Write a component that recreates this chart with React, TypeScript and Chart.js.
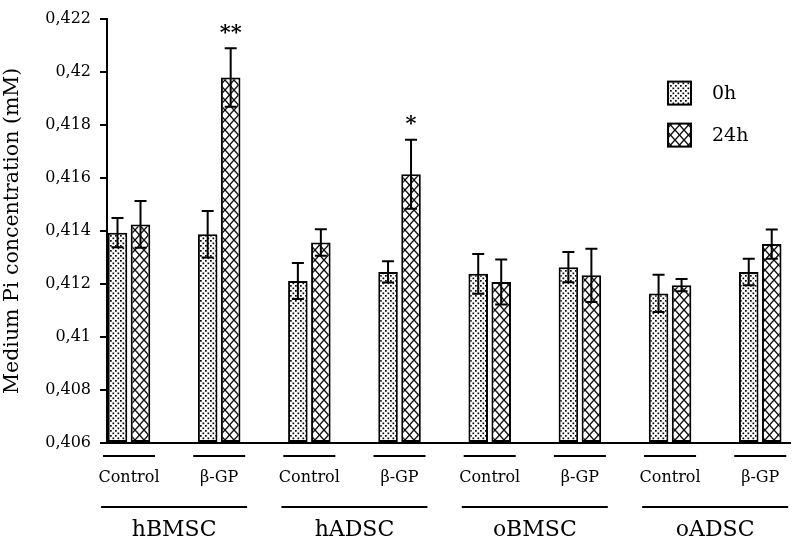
import { useEffect, useRef } from 'react';
import { Chart, registerables } from 'chart.js';

Chart.register(...registerables);

const groups = ['hBMSC', 'hADSC', 'oBMSC', 'oADSC'];
const treatments = ['Control', 'β-GP', 'Control', 'β-GP', 'Control', 'β-GP', 'Control', 'β-GP'];
const seriesLabels = ['0h', '24h'];
const values0h = [0.41393, 0.41387, 0.41211, 0.41245, 0.41238, 0.41263, 0.41164, 0.41245];
const errors0h = [0.00055, 0.00088, 0.00068, 0.0004, 0.00075, 0.00057, 0.0007, 0.0005];
const values24h = [0.41424, 0.41978, 0.41356, 0.41613, 0.41207, 0.41232, 0.41195, 0.4135];
const errors24h = [0.00088, 0.0011, 0.0005, 0.0013, 0.00085, 0.001, 0.00023, 0.00055];
const significance24h = ['', '**', '', '*', '', '', '', ''];
const yMin = 0.406;
const yMax = 0.422;
const yStep = 0.002;
const yTitle = 'Medium Pi concentration (mM)';

const FONT = "'DejaVu Serif', 'Liberation Serif', serif";

function makeDots(): CanvasPattern | string {
  const c = document.createElement('canvas');
  c.width = 5;
  c.height = 5;
  const g = c.getContext('2d');
  if (!g) return '#fff';
  g.fillStyle = '#fff';
  g.fillRect(0, 0, 5, 5);
  g.fillStyle = '#000';
  g.fillRect(0, 0, 1.7, 1.7);
  g.fillRect(2.5, 2.5, 1.7, 1.7);
  return g.createPattern(c, 'repeat') || '#fff';
}

function makeCross(): CanvasPattern | string {
  const w = 9;
  const h = 10;
  const c = document.createElement('canvas');
  c.width = w;
  c.height = h;
  const g = c.getContext('2d');
  if (!g) return '#fff';
  g.fillStyle = '#fff';
  g.fillRect(0, 0, w, h);
  g.strokeStyle = '#111';
  g.lineWidth = 1.4;
  for (let k = -1; k <= 1; k++) {
    g.beginPath();
    g.moveTo(k * w - w, -h);
    g.lineTo(k * w + 2 * w, 2 * h);
    g.stroke();
    g.beginPath();
    g.moveTo(k * w + 2 * w, -h);
    g.lineTo(k * w - w, 2 * h);
    g.stroke();
  }
  return g.createPattern(c, 'repeat') || '#fff';
}

export default function App() {
  const ref = useRef<HTMLCanvasElement | null>(null);

  useEffect(() => {
    if (!ref.current) return;
    const dots = makeDots();
    const cross = makeCross();
    const fills = [dots, cross];
    const allValues = [values0h, values24h];
    const allErrors = [errors0h, errors24h];

    const errorBars = {
      id: 'errorBars',
      afterDatasetsDraw(chart: any) {
        const ctx = chart.ctx;
        const y = chart.scales.y;
        ctx.save();
        ctx.strokeStyle = '#000';
        ctx.lineWidth = 2;
        for (let d = 0; d < 2; d++) {
          const meta = chart.getDatasetMeta(d);
          meta.data.forEach((bar: any, i: number) => {
            const v = allValues[d][i];
            const e = allErrors[d][i];
            const x = bar.x;
            const yt = y.getPixelForValue(v + e);
            const yb = y.getPixelForValue(v - e);
            ctx.beginPath();
            ctx.moveTo(x, yt);
            ctx.lineTo(x, yb);
            ctx.moveTo(x - 6, yt);
            ctx.lineTo(x + 6, yt);
            ctx.moveTo(x - 6, yb);
            ctx.lineTo(x + 6, yb);
            ctx.stroke();
            if (d === 1 && significance24h[i]) {
              ctx.fillStyle = '#000';
              ctx.font = `bold 21px ${FONT}`;
              ctx.textAlign = 'center';
              ctx.textBaseline = 'middle';
              ctx.fillText(significance24h[i], x, yt - 15);
            }
          });
        }
        ctx.restore();
      },
    };

    const extras = {
      id: 'extras',
      afterDraw(chart: any) {
        const ctx = chart.ctx;
        const xs = chart.scales.x;
        const area = chart.chartArea;
        const b = area.bottom;
        ctx.save();
        ctx.strokeStyle = '#000';
        ctx.fillStyle = '#000';
        ctx.lineWidth = 2;
        ctx.textAlign = 'center';
        ctx.textBaseline = 'middle';
        ctx.font = `16px ${FONT}`;
        treatments.forEach((t, i) => {
          const cx = xs.getPixelForValue(i);
          ctx.beginPath();
          ctx.moveTo(cx - 26, b + 13);
          ctx.lineTo(cx + 26, b + 13);
          ctx.stroke();
          ctx.fillText(t, cx, b + 35);
        });
        ctx.font = `22px ${FONT}`;
        groups.forEach((gName, g) => {
          const cx = (xs.getPixelForValue(2 * g) + xs.getPixelForValue(2 * g + 1)) / 2;
          ctx.beginPath();
          ctx.moveTo(cx - 73, b + 64);
          ctx.lineTo(cx + 73, b + 64);
          ctx.stroke();
          ctx.fillText(gName, cx, b + 87);
        });
        // legend
        const lx = area.right - 122;
        const ly = [area.top + 63, area.top + 105];
        ctx.font = `19px ${FONT}`;
        ctx.textAlign = 'left';
        seriesLabels.forEach((s, k) => {
          ctx.fillStyle = fills[k] as any;
          ctx.fillRect(lx, ly[k], 23, 23);
          ctx.strokeRect(lx, ly[k], 23, 23);
          ctx.fillStyle = '#000';
          ctx.fillText(s, lx + 44, ly[k] + 12);
        });
        ctx.restore();
      },
    };

    const chart = new Chart(ref.current, {
      type: 'bar',
      data: {
        datasets: seriesLabels.map((label, d) => ({
          label,
          data: allValues[d].map((v, i) => ({ x: i, y: v })),
          backgroundColor: fills[d] as any,
          borderColor: '#000',
          borderWidth: 2,
          borderSkipped: false,
          base: yMin,
          categoryPercentage: 0.51,
          barPercentage: 0.85,
        })),
      },
      plugins: [errorBars, extras],
      options: {
        responsive: false,
        animation: false,
        layout: { padding: { top: 12, right: 2, left: 0, bottom: 0 } },
        plugins: {
          legend: { display: false },
          tooltip: { enabled: false },
        },
        scales: {
          x: {
            type: 'linear',
            min: -0.244,
            max: 7.33,
            offset: false,
            ticks: { display: false },
            grid: { display: false, drawTicks: false, offset: false },
            border: { display: true, color: '#000', width: 2 },
            afterFit(scale: any) {
              scale.height = 97;
            },
          },
          y: {
            min: yMin,
            max: yMax,
            ticks: {
              stepSize: yStep,
              color: '#000',
              padding: 9,
              font: { family: FONT, size: 16 },
              callback: (v: any) => (Math.round(Number(v) * 1000) / 1000).toString().replace('.', ','),
            },
            grid: {
              display: true,
              drawOnChartArea: false,
              drawTicks: true,
              tickLength: 7,
              color: '#000',
              lineWidth: 2,
            },
            border: { display: true, color: '#000', width: 2 },
            title: {
              display: true,
              text: yTitle,
              color: '#000',
              font: { family: FONT, size: 20.5 },
              padding: { top: 0, bottom: 0 },
            },
            afterFit(scale: any) {
              scale.width = 107;
            },
          },
        },
      },
    } as any);

    return () => chart.destroy();
  }, []);

  return (
    <div style={{ position: 'absolute', left: 0, top: 0, width: 792, height: 540, background: '#fff' }}>
      <canvas ref={ref} width={792} height={540} style={{ display: 'block' }} />
    </div>
  );
}
